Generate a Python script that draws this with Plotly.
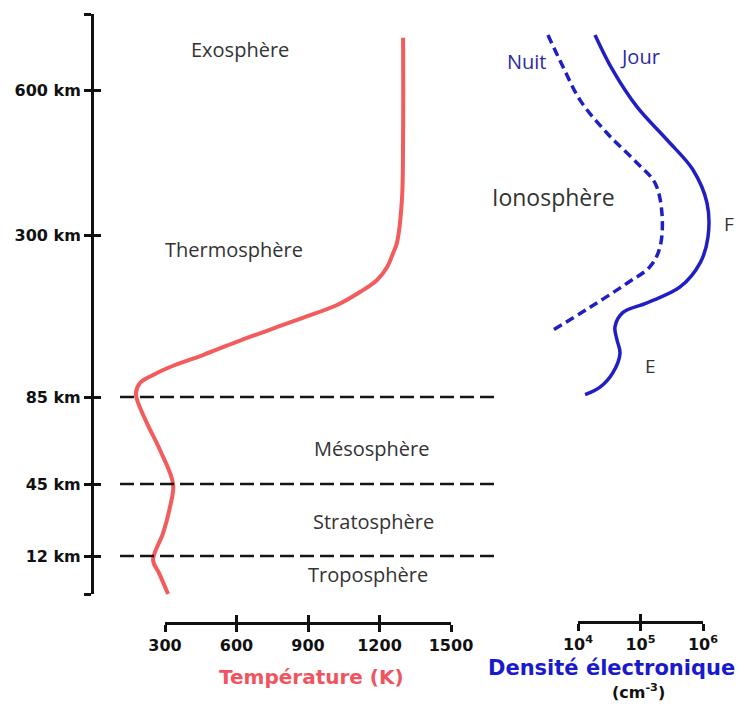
import numpy as np
import plotly.graph_objects as go

# ---------------- data ----------------
# Temperature profile (K) vs altitude (km)
temp_alt_km = [0, 6.6, 10.7, 22.5, 34.5, 45, 60.6, 73, 83.6, 90.3, 103.6, 114.2, 124.8,
               140.7, 157.9, 173.9, 189.8, 207.1, 224.3, 240.3, 257.5, 276, 289.4,
               372, 511, 708]
temp_K = [313, 275, 250, 292, 321, 334, 279, 224, 183, 178, 195, 250, 321,
          459, 598, 736, 875, 1022, 1118, 1190, 1232, 1257, 1273,
          1294, 1299, 1299]

# Electron density (cm^-3) vs altitude (km)
jour_alt_km = [714, 641, 565, 497, 435, 366, 297, 263, 231, 210, 197, 178, 161, 143, 117, 98, 88]
jour_density = [1.87e4, 3.6e4, 8.8e4, 2.65e5, 6.9e5, 1.16e6, 1.2e6, 9.0e5, 4.3e5, 1.27e5,
                5.2e4, 3.9e4, 4.2e4, 4.7e4, 3.6e4, 2.25e4, 1.3e4]
nuit_alt_km = [714, 648, 579, 511, 449, 408, 346, 284, 258, 236, 204, 174]
nuit_density = [3.3e3, 5.75e3, 1.08e4, 2.9e4, 8.8e4, 1.7e5, 2.2e5, 2.05e5, 1.42e5, 6.1e4,
                1.56e4, 4.0e3]

# Layer boundaries and axis ticks
boundary_km = [12, 45, 85]
alt_tick_km = [12, 45, 85, 300, 600]
alt_tick_text = ["12 km", "45 km", "85 km", "300 km", "600 km"]
temp_ticks = [300, 600, 900, 1200, 1500]
dens_ticks = [1e4, 1e5, 1e6]
dens_tick_text = ["10<sup>4</sup>", "10<sup>5</sup>", "10<sup>6</sup>"]

layers = ["Exosphère", "Thermosphère", "Mésosphère", "Stratosphère", "Troposphère"]

# ---------------- schematic (non-linear) altitude scale ----------------
_SCALE_KM = [0, 12, 45, 85, 300, 600, 900]
_SCALE_U = [0, 38, 110, 197, 359, 504, 649]


def alt_u(km):
    return np.interp(np.asarray(km, dtype=float), _SCALE_KM, _SCALE_U)


OFF = 8                      # page body margin
W, H = 749 - OFF, 706 - OFF
RED = "#f25c5c"
BLUE = "#1f1fc4"
TXT = "#333333"


def fx(rx):
    return (rx - OFF) / W


def fy(ry):
    return 1 - (ry - OFF) / H


fig = go.Figure()

fig.add_trace(go.Scatter(x=temp_K, y=alt_u(temp_alt_km), mode="lines",
                         line=dict(color=RED, width=4, shape="spline", smoothing=1.0),
                         xaxis="x", yaxis="y", showlegend=False, hoverinfo="skip"))
fig.add_trace(go.Scatter(x=jour_density, y=alt_u(jour_alt_km), mode="lines",
                         line=dict(color=BLUE, width=3.5, shape="spline", smoothing=1.0),
                         xaxis="x2", yaxis="y", showlegend=False, hoverinfo="skip"))
fig.add_trace(go.Scatter(x=nuit_density, y=alt_u(nuit_alt_km), mode="lines",
                         line=dict(color=BLUE, width=3.5, shape="spline", smoothing=1.0,
                                   dash="9px,5px"),
                         xaxis="x2", yaxis="y", showlegend=False, hoverinfo="skip"))

# dummy traces so that the scale-bar axes are drawn
for xa, ya in [("x3", "y"), ("x5", "y"), ("x4", "y"), ("x6", "y"), ("x", "y2"), ("x", "y3")]:
    fig.add_trace(go.Scatter(x=[None], y=[None], xaxis=xa, yaxis=ya, showlegend=False,
                             hoverinfo="skip"))

# boundary dashed lines
for b in boundary_km:
    yb = float(alt_u(b))
    fig.add_shape(type="line", xref="paper", yref="y", x0=fx(120), x1=fx(497), y0=yb, y1=yb,
                  line=dict(color="#151515", width=2.6, dash="14px,6px"))

# scale endpoints for visible axes (reference pixels)
t_px0, t_px1 = 165, 451
d_px0, d_px1 = 578, 703
kpp = (temp_ticks[-1] - temp_ticks[0]) / (t_px1 - t_px0)
t_range = [temp_ticks[0] - (t_px0 - OFF) * kpp, temp_ticks[0] + (W - (t_px0 - OFF)) * kpp]
dpp = 2.0 / (d_px1 - d_px0)
d_range = [4 - (d_px0 - OFF) * dpp, 4 + (W - (d_px0 - OFF)) * dpp]

y_top_u = 580
alt_tickvals = [0] + list(alt_u(alt_tick_km)) + [y_top_u]
alt_ticktext = [""] + alt_tick_text + [""]

tick_common = dict(showgrid=False, zeroline=False, showline=True, linecolor="#111111",
                   linewidth=3, tickcolor="#111111", tickwidth=2.5, ticklen=7,
                   automargin=False)
tfont = dict(family="DejaVu Sans", size=16, color="#111111", weight="bold")

fig.update_layout(
    width=W, height=H, autosize=False,
    margin=dict(l=0, r=0, t=0, b=0, autoexpand=False),
    paper_bgcolor="white", plot_bgcolor="rgba(0,0,0,0)",
    showlegend=False,
    xaxis=dict(domain=[0, 1], range=t_range, visible=False, anchor="y", automargin=False),
    xaxis2=dict(type="log", range=d_range, visible=False, overlaying="x", anchor="y",
                automargin=False),
    yaxis=dict(domain=[0, 1], range=[594 - 706, 594 - OFF], visible=False, anchor="x",
               automargin=False),
    # visible temperature scale
    xaxis3=dict(domain=[fx(t_px0), fx(t_px1)], range=[temp_ticks[0], temp_ticks[-1]],
                anchor="free", position=fy(623), tickmode="array", tickvals=temp_ticks,
                ticktext=[str(t) for t in temp_ticks], ticks="outside", tickfont=tfont,
                **tick_common),
    xaxis5=dict(overlaying="x3", range=[temp_ticks[0], temp_ticks[-1]], anchor="free",
                position=fy(623), tickmode="array", tickvals=temp_ticks,
                showticklabels=False, ticks="inside", side="bottom", **tick_common),
    # visible density scale
    xaxis4=dict(domain=[fx(d_px0), fx(d_px1)], type="log", range=[4, 6],
                anchor="free", position=fy(622), tickmode="array", tickvals=dens_ticks,
                ticktext=dens_tick_text, ticks="outside", tickfont=tfont,
                **tick_common),
    xaxis6=dict(overlaying="x4", type="log", range=[4, 6], anchor="free",
                position=fy(622), tickmode="array", tickvals=dens_ticks,
                showticklabels=False, ticks="inside", side="bottom", **tick_common),
    # visible altitude axis
    yaxis2=dict(domain=[fy(594), fy(14)], range=[0, y_top_u], anchor="free",
                position=fx(92), tickmode="array", tickvals=alt_tickvals,
                ticktext=alt_ticktext, ticks="outside", tickfont=tfont,
                **tick_common),
    yaxis3=dict(overlaying="y2", range=[0, y_top_u], anchor="free", position=fx(92),
                tickmode="array", tickvals=alt_tickvals, showticklabels=False,
                ticks="inside", side="left", **tick_common),
)


def px_ann(text, x, y, size=17, color=TXT, family="Open Sans", bold=False):
    fig.add_annotation(text=text, x=fx(x), y=fy(y), xref="paper", yref="paper",
                       xanchor="center", yanchor="middle", showarrow=False,
                       font=dict(family=family, size=size, color=color,
                                 weight="bold" if bold else "normal"))


layer_pos = [(240, 50), (234, 250), (371, 449), (373, 521), (368, 574)]
for name, (x, y) in zip(layers, layer_pos):
    px_ann(name, x, y, size=20)
px_ann("Ionosphère", 553, 197, size=23)
px_ann("Nuit", 527, 62, size=20, color="#2b2ba0")
px_ann("Jour", 640, 57, size=20, color="#2b2ba0")
px_ann("F", 729, 224, size=19)
px_ann("E", 650, 366, size=19)

px_ann("Température (K)", 311, 677, size=20, color="#f0555f", family="DejaVu Sans", bold=True)
px_ann("Densité électronique", 611, 668, size=21, color="#1a1acd", family="DejaVu Sans",
       bold=True)
px_ann("(cm<sup>-3</sup>)", 638, 691, size=16, color="#111111", family="DejaVu Sans",
       bold=True)

fig.write_html("out.html")
